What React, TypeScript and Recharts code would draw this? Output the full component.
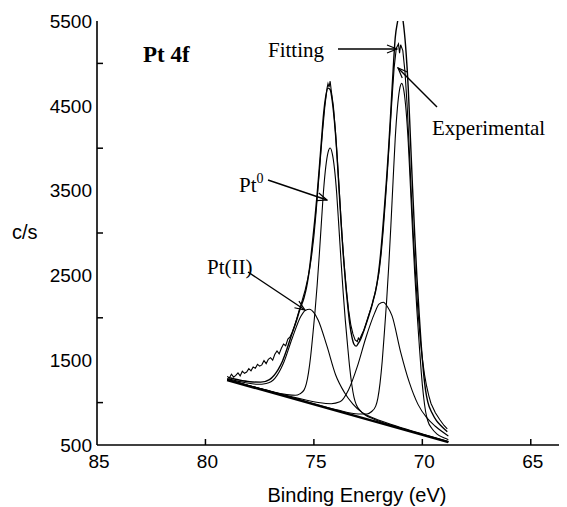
import React from 'react';
import { LineChart, Line, XAxis, YAxis } from 'recharts';

// Pt 4f XPS spectrum (binding energy in eV, counts in c/s)

const expEnergy = [
  79.0, 78.9, 78.8, 78.7, 78.6, 78.5, 78.4, 78.3, 78.2, 78.1, 78.0, 77.9, 77.8, 77.7, 77.6, 77.5, 77.4, 77.3,
  77.2, 77.1, 77.0, 76.9, 76.8, 76.7, 76.6, 76.5, 76.4, 76.3, 76.2, 76.1, 76.0, 75.9, 75.8, 75.7, 75.6, 75.5,
  75.4, 75.3, 75.2, 75.1, 75.0, 74.9, 74.8, 74.7, 74.6, 74.5, 74.4, 74.35, 74.3, 74.25, 74.2, 74.1, 74.0, 73.9,
  73.8, 73.7, 73.6, 73.5, 73.4, 73.3, 73.2, 73.1, 73.0, 72.95, 72.9, 72.8, 72.7, 72.6, 72.5, 72.4, 72.3, 72.2,
  72.1, 72.0, 71.9, 71.8, 71.7, 71.6, 71.5, 71.4, 71.3, 71.2, 71.1, 71.05, 71.0, 70.9, 70.8, 70.7, 70.6, 70.5,
  70.4, 70.3, 70.2, 70.1, 70.0, 69.9, 69.8, 69.7, 69.6, 69.4, 69.2, 69.0, 68.85,
];
const expCounts = [
  1310, 1290, 1335, 1300, 1320, 1350, 1315, 1370, 1345, 1360, 1400, 1375, 1420, 1405, 1450, 1430, 1445, 1495,
  1460, 1510, 1530, 1500, 1570, 1610, 1575, 1640, 1690, 1670, 1750, 1775, 1830, 1900, 1980, 2070, 2150, 2240,
  2330, 2440, 2570, 2740, 2960, 3240, 3560, 3880, 4200, 4480, 4700, 4760, 4720, 4790, 4680, 4490, 4180, 3790,
  3380, 2960, 2620, 2330, 2090, 1920, 1810, 1740, 1720, 1760, 1740, 1800, 1850, 1930, 2010, 2090, 2170, 2270,
  2390, 2530, 2750, 3040, 3390, 3760, 4170, 4580, 4950, 5180, 5230, 5120, 5220, 5150, 4900, 4500, 3980, 3420,
  2900, 2450, 2070, 1760, 1520, 1330, 1190, 1080, 990, 880, 800, 730, 690,
];

const fitEnergy = [
  78.95, 78.45, 77.95, 77.45, 77.05, 76.65, 76.45, 76.25, 76.05, 75.85, 75.65, 75.45, 75.35, 75.25, 75.15,
  75.05, 74.95, 74.85, 74.75, 74.65, 74.55, 74.45, 74.35, 74.25, 74.15, 74.05, 73.95, 73.85, 73.75, 73.65,
  73.55, 73.45, 73.35, 73.25, 73.15, 73.05, 72.95, 72.85, 72.75, 72.65, 72.55, 72.45, 72.35, 72.25, 72.15,
  72.05, 71.95, 71.85, 71.75, 71.65, 71.55, 71.45, 71.35, 71.25, 71.15, 71.05, 70.95, 70.85, 70.75, 70.65,
  70.55, 70.45, 70.35, 70.25, 70.15, 70.05, 69.95, 69.85, 69.75, 69.55, 69.35, 69.15, 68.95, 68.85,
];
const fitCounts = [
  1296, 1266, 1246, 1241, 1272, 1390, 1488, 1625, 1783, 1929, 2094, 2242, 2346, 2493, 2689,
  2927, 3175, 3456, 3768, 4095, 4410, 4615, 4709, 4692, 4553, 4312, 3982, 3559, 3136, 2759,
  2437, 2170, 1935, 1779, 1688, 1666, 1700, 1744, 1810, 1882, 1958, 2039, 2121, 2222, 2320,
  2473, 2686, 2966, 3292, 3633, 4016, 4453, 4902, 5302, 5480, 5590, 5580, 5420, 5130, 4711,
  4122, 3527, 2973, 2480, 2059, 1673, 1368, 1144, 1008, 877, 787, 731, 680, 657,
];

// Pt0 4f5/2 and 4f7/2 components
const pt0aEnergy = [
  79.0, 77.25, 76.25, 75.85, 75.65, 75.45, 75.35, 75.25, 75.15, 75.05, 74.95, 74.85, 74.75, 74.65, 74.55,
  74.45, 74.35, 74.25, 74.15, 74.05, 73.95, 73.85, 73.75, 73.65, 73.55, 73.45, 73.35, 73.25, 73.15, 73.05,
  72.85, 72.65, 72.25, 71.25, 68.8,
];
const pt0aCounts = [
  1268, 1150, 1094, 1086, 1103, 1150, 1220, 1351, 1544, 1798, 2068, 2384, 2746, 3138, 3515,
  3785, 3947, 4002, 3932, 3756, 3472, 3081, 2674, 2298, 1967, 1683, 1415, 1208, 1062, 978,
  902, 857, 807, 720, 537,
];
const pt0bEnergy = [
  79.0, 76.0, 73.95, 72.95, 72.55, 72.35, 72.15, 72.05, 71.95, 71.85, 71.75, 71.65, 71.55, 71.45, 71.35,
  71.25, 71.15, 71.05, 70.95, 70.85, 70.75, 70.65, 70.55, 70.45, 70.35, 70.25, 70.15, 70.05, 69.95, 69.85,
  69.75, 69.55, 69.35, 68.95, 68.8,
];
const pt0bCounts = [
  1271, 1059, 916, 866, 865, 892, 958, 1053, 1230, 1488, 1827, 2186, 2607, 3089, 3611,
  4114, 4473, 4690, 4764, 4676, 4444, 4071, 3553, 3017, 2521, 2086, 1712, 1359, 1086, 895,
  786, 691, 635, 579, 563,
];

// Pt(II) components
const pt2aEnergy = [
  79.0, 78.2, 77.6, 77.2, 76.8, 76.4, 76.0, 75.6, 75.4, 75.2, 75.0, 74.8, 74.4, 74.0, 73.6, 73.2, 72.8,
  72.2, 71.2, 70.0, 68.8,
];
const pt2aCounts = [
  1283, 1237, 1216, 1226, 1286, 1467, 1759, 2019, 2087, 2101, 2062, 1972, 1668, 1329, 1123, 983, 888,
  812, 724, 630, 541,
];
const pt2bEnergy = [
  79.0, 76.8, 75.8, 74.8, 74.2, 73.8, 73.4, 73.0, 72.6, 72.2, 72.0, 71.8, 71.6, 71.4, 71.0, 70.6, 70.2,
  69.8, 69.4, 68.8,
];
const pt2bCounts = [
  1272, 1120, 1056, 1001, 987, 1009, 1152, 1424, 1768, 2055, 2162, 2184, 2127, 2026, 1596, 1238, 979,
  822, 721, 607,
];

// linear background
const bgEnergy = [79.0, 68.8];
const bgCounts = [1266, 535];

const xTicks = [85, 80, 75, 70, 65];
const yTicks = [500, 1000, 1500, 2000, 2500, 3000, 3500, 4000, 4500, 5000, 5500];
const yLabels = [500, 1500, 2500, 3500, 4500, 5500];

const toPoints = (energy: number[], counts: number[]) =>
  energy.map((e, i) => ({ e, c: counts[i] }));

const sans = 'Liberation Sans, Arial, sans-serif';
const serif = 'Liberation Serif, Times New Roman, serif';

const YTick = (props: any) => {
  const { x, y, payload } = props;
  const v = payload.value;
  if (yLabels.includes(v)) {
    return (
      <text x={x} y={y} dy="0.36em" textAnchor="end" fontFamily={sans} fontSize={19} fill="#000">
        {v}
      </text>
    );
  }
  return <line x1={x + 5} x2={x + 11} y1={y} y2={y} stroke="#000" strokeWidth={1.5} />;
};

const BottomTick = (props: any) => {
  const { x, y, payload } = props;
  return (
    <g>
      {payload.value !== 85 && (
        <line x1={x} x2={x} y1={y - 8} y2={y - 14} stroke="#000" strokeWidth={1.5} />
      )}
      <text x={x + 2} y={y + 15} textAnchor="middle" fontFamily={sans} fontSize={19} fill="#000">
        {payload.value}
      </text>
    </g>
  );
};

const TopTick = (props: any) => {
  const { x, y, payload } = props;
  if (payload.value === 85) return <g />;
  return <line x1={x} x2={x} y1={y} y2={y + 6} stroke="#000" strokeWidth={1.5} />;
};

const axisStroke = { stroke: '#000', strokeWidth: 1.6 };

export default function App() {
  return (
    <div style={{ position: 'relative', width: 559, height: 499 }}>
      <LineChart width={559} height={499} margin={{ top: 13, right: 0, bottom: 0, left: 0 }}>
        <XAxis
          type="number"
          dataKey="e"
          domain={[63.33, 85]}
          reversed
          ticks={xTicks}
          interval={0}
          height={62}
          tickSize={0}
          tickMargin={8}
          tickLine={false}
          axisLine={axisStroke}
          tick={<BottomTick />}
          allowDataOverflow
        />
        <XAxis
          xAxisId="top"
          orientation="top"
          type="number"
          dataKey="e"
          domain={[63.33, 85]}
          reversed
          ticks={xTicks}
          interval={0}
          height={0}
          tickSize={0}
          tickMargin={0}
          tickLine={false}
          axisLine={axisStroke}
          tick={<TopTick />}
          allowDataOverflow
        />
        <YAxis
          type="number"
          domain={[500, 5500]}
          ticks={yTicks}
          interval={0}
          width={89}
          tickSize={0}
          tickMargin={5}
          tickLine={false}
          axisLine={axisStroke}
          tick={<YTick />}
          allowDataOverflow
        />
        <Line data={toPoints(bgEnergy, bgCounts)} dataKey="c" type="linear" stroke="#000" strokeWidth={2.4} dot={false} isAnimationActive={false} />
        <Line data={toPoints(pt2aEnergy, pt2aCounts)} dataKey="c" type="monotone" stroke="#000" strokeWidth={1.1} dot={false} isAnimationActive={false} />
        <Line data={toPoints(pt2bEnergy, pt2bCounts)} dataKey="c" type="monotone" stroke="#000" strokeWidth={1.1} dot={false} isAnimationActive={false} />
        <Line data={toPoints(pt0aEnergy, pt0aCounts)} dataKey="c" type="monotone" stroke="#000" strokeWidth={1.1} dot={false} isAnimationActive={false} />
        <Line data={toPoints(pt0bEnergy, pt0bCounts)} dataKey="c" type="monotone" stroke="#000" strokeWidth={1.1} dot={false} isAnimationActive={false} />
        <Line data={toPoints(fitEnergy, fitCounts)} dataKey="c" type="monotone" stroke="#000" strokeWidth={1.4} dot={false} isAnimationActive={false} />
        <Line data={toPoints(expEnergy, expCounts)} dataKey="c" type="linear" stroke="#000" strokeWidth={1.1} dot={false} isAnimationActive={false} />
      </LineChart>

      <svg width={559} height={499} style={{ position: 'absolute', left: 0, top: 0, pointerEvents: 'none' }}>
        <defs>
          <marker id="arrow" markerWidth="12" markerHeight="10" refX="11" refY="5" orient="auto" markerUnits="userSpaceOnUse">
            <path d="M1,1 L11,5 L1,9" fill="none" stroke="#000" strokeWidth={1.2} />
          </marker>
        </defs>
        <text x={4} y={231} fontFamily={sans} fontSize={20} fill="#000">c/s</text>
        <text x={349} y={494} textAnchor="middle" fontFamily={sans} fontSize={20} fill="#000">
          Binding Energy (eV)
        </text>
        <text x={135} y={54} fontFamily={serif} fontSize={23} fontWeight="bold" fill="#000">Pt 4f</text>
        <text x={260} y={49} fontFamily={serif} fontSize={21} fill="#000">Fitting</text>
        <line x1={330} y1={41} x2={389} y2={41} stroke="#000" strokeWidth={1.4} markerEnd="url(#arrow)" />
        <text x={424} y={127} fontFamily={serif} fontSize={21} fill="#000">Experimental</text>
        <line x1={429} y1={99} x2={390} y2={60} stroke="#000" strokeWidth={1.4} markerEnd="url(#arrow)" />
        <text x={231} y={184} fontFamily={serif} fontSize={21} fill="#000">
          Pt<tspan fontSize={14} dy={-9} fill="#000">0</tspan>
        </text>
        <line x1={260} y1={172} x2={319} y2={192} stroke="#000" strokeWidth={1.4} markerEnd="url(#arrow)" />
        <text x={199} y={266} fontFamily={serif} fontSize={21} fill="#000">Pt(II)</text>
        <line x1={240} y1={264} x2={297} y2={302} stroke="#000" strokeWidth={1.4} markerEnd="url(#arrow)" />
      </svg>
    </div>
  );
}
